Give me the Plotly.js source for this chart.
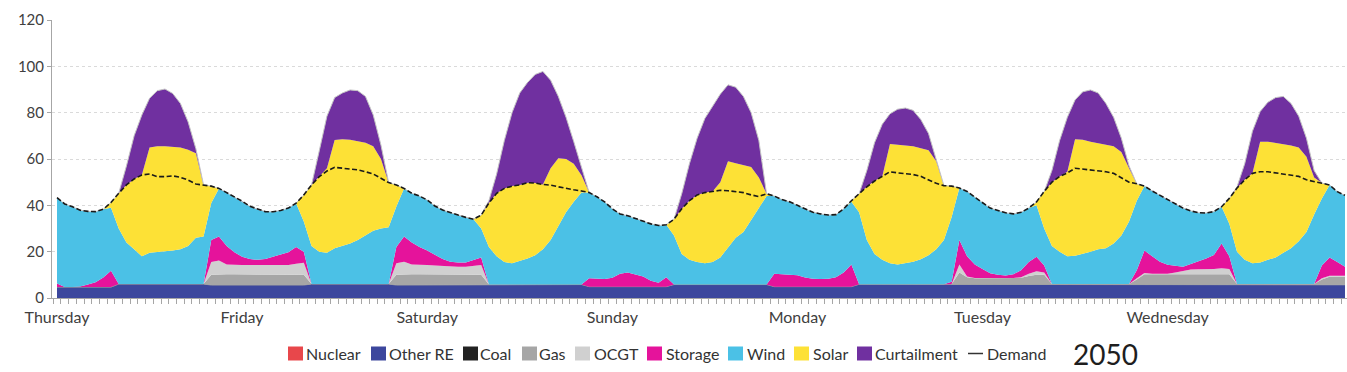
<!DOCTYPE html>
<html><head><meta charset="utf-8">
<script src="https://cdn.plot.ly/plotly-3.0.1.min.js"></script>
<style>html,body{margin:0;padding:0;background:#fff;overflow:hidden}#chart{width:1347px;height:372px}</style>
</head><body><div id="chart"></div>
<script>
// ---------- DATA (hourly, one week, GW) ----------
const days = ['Thursday','Friday','Saturday','Sunday','Monday','Tuesday','Wednesday'];
const seriesNames = ['Nuclear','Other RE','Coal','Gas','OCGT','Storage','Wind','Solar','Curtailment'];
const demandName = 'Demand';
const yearLabel = '2050';

const nuclear = [
0,0,0,0,0,0,0,0,0,0,0,0,0,0,0,0,0,0,0,0,0,0,0,0,
0,0,0,0,0,0,0,0,0,0,0,0,0,0,0,0,0,0,0,0,0,0,0,0,
0,0,0,0,0,0,0,0,0,0,0,0,0,0,0,0,0,0,0,0,0,0,0,0,
0,0,0,0,0,0,0,0,0,0,0,0,0,0,0,0,0,0,0,0,0,0,0,0,
0,0,0,0,0,0,0,0,0,0,0,0,0,0,0,0,0,0,0,0,0,0,0,0,
0,0,0,0,0,0,0,0,0,0,0,0,0,0,0,0,0,0,0,0,0,0,0,0,
0,0,0,0,0,0,0,0,0,0,0,0,0,0,0,0,0,0,0,0,0,0,0,0];

const otherRE = [
4.7,4.7,4.7,4.7,4.7,4.7,4.7,4.7,6,6,6,6,6,6,6,6,6,6,6,6,5.6,5.6,5.6,5.6,
5.6,5.6,5.6,5.6,5.6,5.6,5.6,5.6,5.6,6,6,6,6,6,6,6,6,6,6,6,5.6,5.6,5.6,5.6,
5.6,5.6,5.6,5.6,5.6,5.6,5.6,5.6,5.8,5.8,5.8,5.8,5.8,5.8,5.8,5.8,5.8,5.8,5.8,5.8,5.8,4.9,4.9,4.9,
4.9,4.9,4.9,4.9,4.9,4.9,4.9,4.9,5.8,5.8,5.8,5.8,5.8,5.8,5.8,5.8,5.8,5.8,5.8,5.8,5.8,4.9,4.9,4.9,
4.9,4.9,4.9,4.9,4.9,4.9,4.9,4.9,5.9,5.9,5.9,5.9,5.9,5.9,5.9,5.9,5.9,5.9,5.9,5.9,5.7,5.7,5.7,5.7,
5.7,5.7,5.7,5.7,5.7,5.7,5.7,5.7,5.7,6,6,6,6,6,6,6,6,6,6,6,5.8,5.7,5.7,5.7,
5.7,5.7,5.7,5.7,5.7,5.7,5.7,5.7,5.7,6,6,6,6,6,6,6,6,6,6,6,5.7,5.7,5.7,5.7];

const coal = [
0,0,0,0,0,0,0,0,0,0,0,0,0,0,0,0,0,0,0,0,0,0,0,0,
0,0,0,0,0,0,0,0,0,0,0,0,0,0,0,0,0,0,0,0,0,0,0,0,
0,0,0,0,0,0,0,0,0,0,0,0,0,0,0,0,0,0,0,0,0,0,0,0,
0,0,0,0,0,0,0,0,0,0,0,0,0,0,0,0,0,0,0,0,0,0,0,0,
0,0,0,0,0,0,0,0,0,0,0,0,0,0,0,0,0,0,0,0,0,0,0,0,
0,0,0,0,0,0,0,0,0,0,0,0,0,0,0,0,0,0,0,0,0,0,0,0,
0,0,0,0,0,0,0,0,0,0,0,0,0,0,0,0,0,0,0,0,0,0,0,0];

const gas = [
0,0,0,0,0,0,0,0,0,0,0,0,0,0,0,0,0,0,0,0,4.4,4.6,4.6,4.6,
4.6,4.6,4.6,4.6,4.6,4.6,4.6,4.6,4.4,0,0,0,0,0,0,0,0,0,0,0,4.4,4.6,4.6,4.6,
4.6,4.6,4.4,4.4,4.4,4.4,4.4,4.4,0,0,0,0,0,0,0,0,0,0,0,0,0,0,0,0,
0,0,0,0,0,0,0,0,0,0,0,0,0,0,0,0,0,0,0,0,0,0,0,0,
0,0,0,0,0,0,0,0,0,0,0,0,0,0,0,0,0,0,0,0,0.3,5.3,3.3,2.8,
2.8,2.8,2.8,2.8,2.8,3.0,3.8,4.3,4.3,0,0,0,0,0,0,0,0,0,0,0,2.2,4.6,4.5,4.5,
4.5,4.5,4.5,4.5,4.5,4.5,4.5,4.5,4.5,0,0,0,0,0,0,0,0,0,0,0,2.3,3.5,3.5,3.5];

const ocgt = [
0,0,0,0,0,0,0,0,0,0,0,0,0,0,0,0,0,0,0,0,5.5,6.0,4.3,4.0,
4.0,4.0,4.0,4.0,4.0,4.0,4.0,4.6,5.2,0,0,0,0,0,0,0,0,0,0,0,5.0,5.5,4.3,4.0,
4.0,3.8,3.8,3.5,3.5,3.5,3.8,4.2,0,0,0,0,0,0,0,0,0,0,0,0,0,0,0,0,
0,0,0,0,0,0,0,0,0,0,0,0,0,0,0,0,0,0,0,0,0,0,0,0,
0,0,0,0,0,0,0,0,0,0,0,0,0,0,0,0,0,0,0,0,0,3.5,0.3,0.1,
0.1,0.1,0.1,0.1,0.1,0.3,1.0,1.5,1.0,0,0,0,0,0,0,0,0,0,0,0,0.5,0.5,0.3,0.3,
0.3,0.8,1.3,2.1,2.2,2.2,2.3,2.6,2.3,0,0,0,0,0,0,0,0,0,0,0,0.5,0.4,0.4,0.4];

const storage = [
1.6,0,0,0.3,1.1,2.1,4.1,7.1,0,0,0,0,0,0,0,0,0,0,0,0,9.5,10.3,8.0,5.6,
3.6,2.6,2.3,2.6,3.6,4.6,5.6,7.2,4.8,0,0,0,0,0,0,0,0,0,0,0,7.0,10.8,9.5,7.8,
6.3,4.5,3.0,2.2,1.8,1.8,2.6,3.3,0,0,0,0,0,0,0,0,0,0,0,0,0,3.6,3.4,3.3,
3.8,5.6,6.1,5.4,4.4,2.6,1.7,4.1,0,0,0,0,0,0,0,0,0,0,0,0,0,5.6,5.4,5.1,
4.9,3.9,3.4,3.3,3.4,4.1,6.1,9.6,0,0,0,0,0,0,0,0,0,0,0,0,1.0,10.5,8.7,5.9,
3.9,2.1,1.4,1.1,1.6,3.0,5.0,6.3,3.0,0,0,0,0,0,0,0,0,0,0,0,3.5,9.7,7.5,5.2,
3.8,2.8,2.0,2.4,3.4,4.6,6.1,10.7,5.5,0,0,0,0,0,0,0,0,0,0,0,5.5,7.9,5.9,3.9];

const wind = [
37.0,35.9,34.7,32.9,31.6,30.5,29.5,27.2,24.0,18.0,15.0,12.0,13.5,14.0,14.2,14.5,15.0,16.5,20.0,20.5,16.0,20.8,23.0,23.7,
24.0,22.8,21.8,20.5,19.4,19.0,19.0,18.9,13.0,16.5,14.0,13.5,15.5,16.5,17.5,19.0,21.0,23.0,24.0,24.5,17.5,20.8,21.2,22.0,
21.8,21.2,21.2,21.1,20.5,19.5,17.6,12.5,16.2,12.2,9.7,9.2,10.2,11.2,12.7,15.2,19.2,25.2,31.2,35.7,39.7,37.0,35.4,33.3,
29.8,25.8,24.5,24.1,23.9,24.5,24.7,22.6,21.2,13.2,10.7,9.7,9.2,9.7,11.7,15.7,20.2,22.7,27.7,33.2,38.2,33.5,32.2,31.5,
30.2,29.7,28.7,28.1,27.5,27.0,27.5,27.0,31.1,19.1,13.1,10.6,9.1,8.6,9.1,9.8,10.8,12.6,15.1,19.1,28.0,22.5,28.0,29.0,
28.5,28.1,27.8,27.1,26.1,25.0,23.3,22.2,16.0,16.5,14.0,12.0,12.2,13.0,14.0,15.0,15.5,17.5,21.0,27.0,30.0,27.8,28.2,28.6,
28.0,26.7,25.3,22.9,21.0,19.7,18.7,15.9,14.0,14.0,10.5,9.0,9.3,10.5,11.5,13.5,15.5,18.5,22.5,30.0,29.0,31.3,30.4,30.8];

const solar = [
0,0,0,0,0,0,0,2.2,15.2,24.8,30.4,35.1,45.5,45.5,45.3,44.8,44.0,41.5,36.5,22.3,7.3,0,0,0,
0,0,0,0,0,0,0,0,11.5,26.3,32.4,36.5,46.7,46.0,44.8,42.8,40.0,36.5,30.0,19.3,9.3,0,0,0,
0,0,0,0,0,0,0,5.8,19.0,27.2,31.8,33.3,32.8,32.8,31.1,28.0,31.0,29.3,23.0,16.5,7.5,0,0,0,
0,0,0,0,0,0,0,0,7.0,19.5,25.5,29.0,30.5,30.5,32.5,37.5,32.2,28.9,23.0,13.0,1.0,0,0,0,
0,0,0,0,0,0,0,0.5,8.0,23.0,31.5,36.0,51.5,51.8,50.8,49.8,48.1,45.3,38.0,23.5,13.3,0,0,0,
0,0,0,0,0,0,0,1.5,16.0,27.5,32.5,36.5,50.3,49.3,47.5,46.0,44.7,42.0,36.0,23.0,7.3,0,0,0,
0,0,0,0,0,0,0,0,11.0,27.5,34.5,38.8,52.2,51.0,49.5,46.8,44.3,40.5,32.5,16.0,6.6,0,0,0];

const curtailment = [
0,0,0,0,0,0,0,0,0,8.2,18.6,25.9,21.2,24.0,24.7,23.0,19.0,12.0,2.0,0,0,0,0,0,
0,0,0,0,0,0,0,0,0,0,11.1,22.5,18.3,20.0,21.5,21.7,20.0,13.5,6.0,0,0,0,0,0,
0,0,0,0,0,0,0,0,1.0,8.3,20.7,31.7,39.7,43.2,46.9,48.8,38.0,26.7,18.0,9.5,3.0,0,0,0,
0,0,0,0,0,0,0,0,0,6.5,16.0,24.5,32.0,37.0,38.0,33.0,32.8,29.6,23.5,16.0,0,0,0,0,
0,0,0,0,0,0,0,0,0,7.0,16.5,22.5,13.0,15.2,16.2,15.5,12.2,7.2,1.0,0,0,0,0,0,
0,0,0,0,0,0,0,0,0,5.0,15.5,23.5,17.0,20.7,22.3,21.5,17.8,12.5,6.0,1.0,0,0,0,0,
0,0,0,0,0,0,0,0,0,0.5,7.0,18.2,13.0,17.0,19.5,20.7,18.2,13.5,8.0,3.0,0,0,0,0];

const demand = [
43.3,40.6,39.4,37.9,37.4,37.3,38.3,41.2,45.2,48.8,51.4,53.1,53.5,52.4,52.4,52.7,52.1,50.9,49.2,48.8,48.3,47.3,45.5,43.5,
41.8,39.6,38.3,37.3,37.2,37.8,38.8,40.9,44.5,48.8,52.4,54.8,56.4,56.0,55.5,55.3,54.5,53.5,51.7,49.8,48.8,47.3,45.2,44.0,
42.3,39.7,38.0,36.8,35.8,34.8,34.0,35.8,41.0,45.2,47.3,48.3,48.8,49.8,49.6,49.0,48.7,48.0,47.2,46.7,46.2,45.5,43.7,41.5,
38.5,36.3,35.5,34.4,33.2,32.0,31.3,31.6,34.0,38.5,42.0,44.5,45.5,46.0,46.5,46.3,46.0,45.5,44.5,43.8,45.0,44.0,42.5,41.5,
40.0,38.5,37.0,36.3,35.8,36.0,38.5,42.0,45.0,48.0,50.5,52.5,54.5,54.0,53.7,53.3,52.5,51.0,49.5,48.5,48.3,47.5,46.0,43.5,
41.0,38.8,37.8,36.8,36.3,37.0,38.8,41.5,46.0,50.0,52.5,54.0,56.0,55.7,55.3,55.0,54.5,53.8,51.8,50.0,49.3,48.3,46.2,44.3,
42.3,40.5,38.8,37.6,36.8,36.7,37.3,39.4,43.0,47.5,51.0,53.8,54.5,54.5,54.0,53.8,53.3,52.5,51.0,50.2,49.6,48.8,45.9,44.3];

// ---------- STYLE ----------
const colors = ['#E8474B','#3C479D','#222222','#A6A6A6','#D0D0D0','#E5139B','#4BC1E6','#FDE136','#7030A0'];
const seriesValues = [nuclear, otherRE, coal, gas, ocgt, storage, wind, solar, curtailment];
const hoursPerDay = 24;

seriesValues.concat([demand]).forEach((a, i) => {
  if (a.length !== 168) throw new Error('series ' + i + ' has length ' + a.length);
});

const hours = demand.map((_, i) => i);

const traces = seriesValues.map((vals, i) => {
  let line = {width: 0, color: colors[i], shape: 'linear'};
  if (seriesNames[i] === 'Other RE') line = {width: 1, color: '#9c9c9c', shape: 'linear'};
  if (seriesNames[i] === 'Curtailment') line = {width: 1, color: '#c4c4c4', shape: 'linear'};
  return {
    type: 'scatter', mode: 'lines', name: seriesNames[i],
    x: hours, y: vals, stackgroup: 'supply',
    fillcolor: colors[i], line: line, hoverinfo: 'skip'
  };
});
traces.push({
  type: 'scatter', mode: 'lines', name: demandName, x: hours, y: demand,
  line: {color: '#1a1a1a', width: 1.6, dash: '5px,2.5px'}, hoverinfo: 'skip'
});

// ---------- LAYOUT ----------
const L = 52, W = 1295, T = 20, H = 278;
const px2x = p => (p - L) / W;
const py2y = p => (T + H - p) / H;

const legendSq = [288, 371, 463, 522, 575, 647, 728, 794, 857];
const legendTx = [305, 388, 479, 538, 593, 665, 746, 811.5, 874];
const legY = 353.5;

const shapes = [];
const annotations = [];
seriesNames.forEach((n, i) => {
  shapes.push({type: 'rect', xref: 'paper', yref: 'paper',
    x0: px2x(legendSq[i]), x1: px2x(legendSq[i] + 15),
    y0: py2y(legY + 7), y1: py2y(legY - 7),
    fillcolor: colors[i], line: {width: 0}});
  annotations.push({xref: 'paper', yref: 'paper', x: px2x(legendTx[i] - 1), y: py2y(legY),
    xanchor: 'left', yanchor: 'middle', showarrow: false, text: n,
    font: {family: 'Lato, sans-serif', size: 16, color: '#333333'}});
});
shapes.push({type: 'line', xref: 'paper', yref: 'paper',
  x0: px2x(968), x1: px2x(983), y0: py2y(legY), y1: py2y(legY),
  line: {color: '#333333', width: 1.5}});
annotations.push({xref: 'paper', yref: 'paper', x: px2x(985), y: py2y(legY),
  xanchor: 'left', yanchor: 'middle', showarrow: false, text: demandName,
  font: {family: 'Lato, sans-serif', size: 16, color: '#333333'}});
annotations.push({xref: 'paper', yref: 'paper', x: px2x(1071), y: py2y(legY),
  xanchor: 'left', yanchor: 'middle', showarrow: false, text: yearLabel,
  font: {family: 'Lato, sans-serif', size: 28, color: '#1e1e1e'}});

const layout = {
  width: 1347, height: 372,
  margin: {l: L, r: 0, t: T, b: 372 - T - H, pad: 0},
  paper_bgcolor: '#ffffff', plot_bgcolor: '#ffffff',
  showlegend: false,
  font: {family: 'Lato, sans-serif', color: '#404040'},
  xaxis: {
    range: [-0.65, 167.26], tickmode: 'array',
    tickvals: days.map((_, i) => i * hoursPerDay), ticktext: days,
    ticks: 'outside', ticklen: 5, tickcolor: 'rgba(0,0,0,0)',
    showgrid: false, zeroline: false, showline: true, linecolor: '#a6a6a6', linewidth: 1,
    tickfont: {family: 'Lato, sans-serif', size: 16, color: '#404040'},
    minor: {tickmode: 'linear', tick0: -0.5, dtick: 1, ticks: 'outside', ticklen: 5, tickcolor: '#a6a6a6', showgrid: false}
  },
  yaxis: {
    range: [0, 120], tickmode: 'linear', tick0: 0, dtick: 20,
    ticks: 'outside', ticklen: 4, tickcolor: '#a6a6a6',
    showline: true, linecolor: '#a6a6a6', linewidth: 1, zeroline: false,
    showgrid: true, gridcolor: '#dadada', griddash: 'dot', gridwidth: 1,
    tickfont: {family: 'Lato, sans-serif', size: 15, color: '#404040'}
  },
  shapes: shapes, annotations: annotations
};

Plotly.newPlot('chart', traces, layout, {displayModeBar: false, staticPlot: true});
</script>
</body></html>
